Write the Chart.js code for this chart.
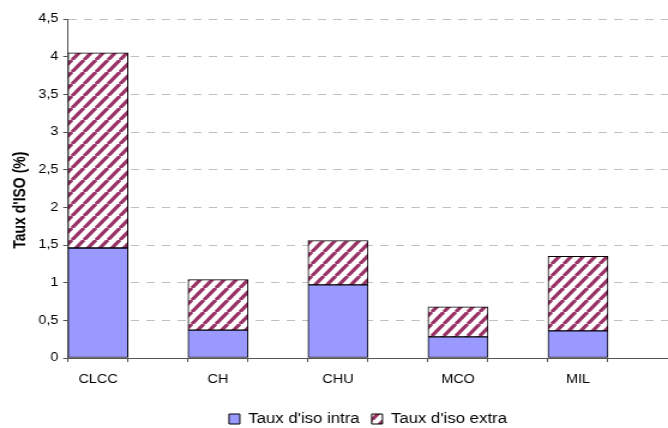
<!DOCTYPE html>
<html>
<head>
<meta charset="utf-8">
<script src="https://cdn.jsdelivr.net/npm/chart.js@4/dist/chart.umd.min.js"></script>
<style>
  html, body { margin: 0; padding: 0; background: #ffffff; overflow: hidden; }
  #wrap { width: 557px; height: 428px; transform: scaleX(1.19928); transform-origin: 0 0; }
  canvas { display: block; }
</style>
</head>
<body>
<div id="wrap"><canvas id="c" width="557" height="428" style="width:557px;height:428px"></canvas></div>
<script>
// ---- data ----
const categories = ["CLCC", "CH", "CHU", "MCO", "MIL"];
const intraValues = [1.46, 0.37, 0.97, 0.28, 0.36];
const extraValues = [2.59, 0.67, 0.59, 0.40, 0.99];
const seriesNames = ["Taux d'iso intra", "Taux d'iso extra"];
const yTitle = "Taux d'ISO (%)";
const yMin = 0, yMax = 4.5, yStep = 0.5;

// each category occupies two slots: the bar and an empty gap slot
const slotLabels = [];
const intraSlots = [];
const extraSlots = [];
categories.forEach((c, i) => {
  slotLabels.push(c, "");
  intraSlots.push(intraValues[i], null);
  extraSlots.push(extraValues[i], null);
});

// diagonal stripe pattern
function makeStripes() {
  const w = 10, h = 12;
  const t = document.createElement('canvas');
  t.width = w; t.height = h;
  const g = t.getContext('2d');
  g.fillStyle = '#ffffff';
  g.fillRect(0, 0, w, h);
  g.strokeStyle = '#993366';
  g.lineWidth = 3.3;
  g.beginPath();
  for (let k = -1; k <= 1; k++) {
    g.moveTo(k * w, h);
    g.lineTo(k * w + w, 0);
  }
  g.stroke();
  return document.getElementById('c').getContext('2d').createPattern(t, 'repeat');
}
const stripes = makeStripes();

const shiftLegend = {
  id: 'shiftLegend',
  afterLayout(chart) {
    const l = chart.legend;
    if (!l) return;
    l.left = chart.chartArea.left;
    l.right = chart.chartArea.right;
    l.top += 8;
    l.bottom += 8;
  }
};

const FONT = "'Liberation Sans', Arial, sans-serif";

new Chart(document.getElementById('c'), {
  type: 'bar',
  data: {
    labels: slotLabels,
    datasets: [
      {
        label: seriesNames[0],
        data: intraSlots,
        backgroundColor: '#9999ff',
        borderColor: '#000000',
        borderWidth: 1,
        borderSkipped: false,
        barPercentage: 1,
        categoryPercentage: 1
      },
      {
        label: seriesNames[1],
        data: extraSlots,
        backgroundColor: stripes,
        borderColor: '#000000',
        borderWidth: 1,
        borderSkipped: false,
        barPercentage: 1,
        categoryPercentage: 1
      }
    ]
  },
  options: {
    responsive: false,
    animation: false,
    devicePixelRatio: 1,
    layout: { padding: { top: 19, left: 0, right: 0, bottom: 0 } },
    plugins: {
      tooltip: { enabled: false },
      legend: {
        position: 'bottom',
        labels: {
          font: { family: FONT, size: 14 },
          color: '#000000',
          boxWidth: 9,
          boxHeight: 10,
          padding: 10
        }
      }
    },
    scales: {
      x: {
        stacked: true,
        offset: true,
        afterFit(s) { s.height = 36; },
        grid: {
          offset: true,
          drawOnChartArea: false,
          drawTicks: true,
          tickLength: 4,
          tickColor: '#555555'
        },
        border: { color: '#555555', width: 1 },
        ticks: {
          autoSkip: false,
          maxRotation: 0,
          padding: 10,
          color: '#000000',
          font: { family: FONT, size: 12 }
        }
      },
      y: {
        stacked: true,
        min: yMin,
        max: yMax,
        afterFit(s) { s.width = 56.7; },
        grid: {
          color: '#c0c0c0',
          lineWidth: 1,
          drawTicks: true,
          tickLength: 4,
          tickColor: '#555555',
          tickBorderDash: []
        },
        border: { color: '#555555', width: 1, dash: [7, 6] },
        ticks: {
          stepSize: yStep,
          padding: 4,
          color: '#000000',
          font: { family: FONT, size: 12 },
          callback: v => String(v).replace('.', ',')
        },
        title: {
          display: true,
          text: yTitle + '      ',
          color: '#000000',
          font: { family: FONT, size: 14, weight: 'bold' },
          padding: { top: 9.2, bottom: 0 }
        }
      }
    }
  },
  plugins: [shiftLegend]
});
</script>
</body>
</html>
